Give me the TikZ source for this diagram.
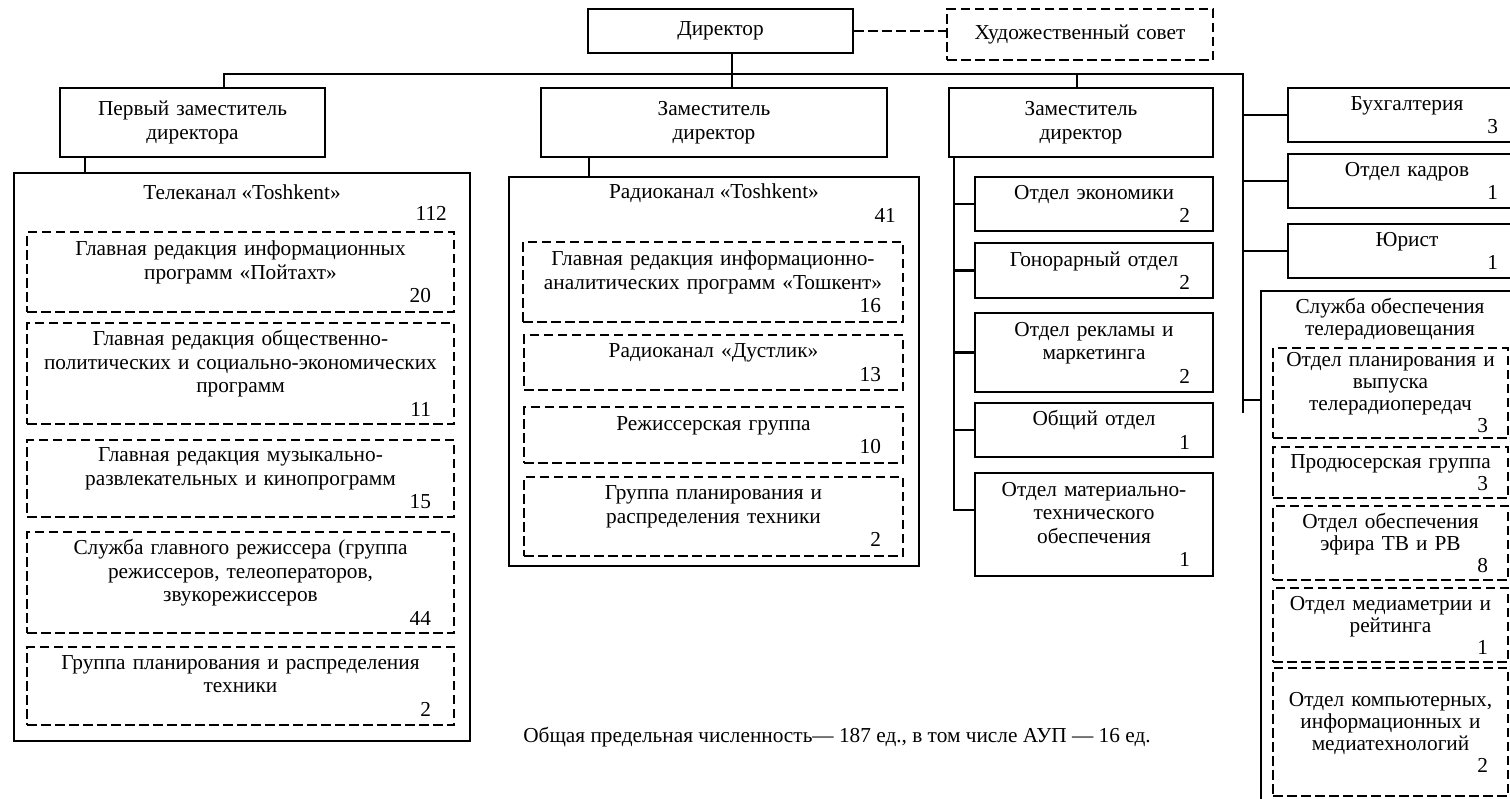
\documentclass[tikz,border=0pt]{standalone}
\usepackage{fontspec}
\setmainfont{Liberation Serif}
\newcommand\nm[2][21]{\\\mbox{}\hfill#2\kern#1pt}
\newcommand\bx[7]{%
  \pgfmathsetmacro\bw{#4-#2}\pgfmathsetmacro\bh{#5-#3}%
  \pgfmathsetmacro\bcx{(#2+#4)/2}\pgfmathsetmacro\bcy{(#3+#5)/2}%
  \pgfmathsetmacro\tw{#4-#2-4}%
  \node[#6, minimum width=\bw pt, minimum height=\bh pt, text width=\tw pt] (#1) at (\bcx,\bcy) {#7};}
\begin{document}
\begin{tikzpicture}[x=1pt,y=-1pt,
  bx/.style={draw, line width=2.4pt, rectangle, inner xsep=2pt, inner ysep=0pt, align=center, font=\fontsize{21.3}{23.5}\selectfont},
  dbx/.style={bx, line width=2.8pt, dash pattern=on 9.5pt off 4.5pt},
  sbx/.style={dbx, font=\fontsize{21.3}{22}\selectfont},
  ln/.style={line width=2.2pt},
  dln/.style={line width=2.8pt, dash pattern=on 9.5pt off 4.5pt},
  tx/.style={inner sep=0pt, font=\fontsize{21.3}{23.5}\selectfont}]
\useasboundingbox (0,0) rectangle (1510,798);
\clip (0,0) rectangle (1510,798);

\bx{dir}{588}{9}{853}{53}{bx}{\raisebox{-2pt}{Директор}}
\bx{hud}{947}{9}{1213}{60}{dbx}{Художественный совет}
\bx{dep1}{60}{88}{325}{157}{bx}{Первый заместитель\\директора}
\bx{dep2}{541}{88}{887}{157}{bx}{Заместитель\\директор}
\bx{dep3}{949}{88}{1213}{157}{bx}{Заместитель\\директор}

\bx{tele}{14}{173}{470}{741}{bx}{}
\node[tx] (tt) at (242,192) {Телеканал «Toshkent»};
\node[tx, anchor=east] (tn) at (447,213) {112};
\bx{T1}{27}{232}{454}{312}{dbx}{Главная редакция информационных\\программ «Пойтахт»\nm{20}}
\bx{T2}{27}{323}{454}{424}{dbx}{Главная редакция общественно-\\политических и социально-экономических\\программ\nm{11}}
\bx{T3}{27}{440}{454}{517}{dbx}{Главная редакция музыкально-\\развлекательных и кинопрограмм\nm{15}}
\bx{T4}{27}{532}{454}{633}{dbx}{Служба главного режиссера (группа\\режиссеров, телеоператоров,\\звукорежиссеров\nm{44}}
\bx{T5}{27}{647}{454}{725}{dbx}{Группа планирования и распределения\\техники\nm{2}}

\bx{radio}{509}{177}{919}{566}{bx}{}
\node[tx] (rt) at (714,193) {Радиоканал «Toshkent»};
\node[tx, anchor=east] (rn) at (896,215) {41};
\bx{R1}{523}{242}{903}{322}{dbx}{Главная редакция информационно-\\аналитических программ «Тошкент»\nm[20]{16}}
\bx{R2}{524}{335}{903}{390}{dbx}{Радиоканал «Дустлик»\nm[20]{13}}
\bx{R3}{524}{407}{903}{463}{dbx}{Режиссерская группа\nm[20]{10}}
\bx{R4}{524}{477}{903}{556}{dbx}{Группа планирования и\\распределения техники\nm[20]{2}}

\bx{D1}{975}{177}{1213}{231}{bx}{Отдел экономики\nm{2}}
\bx{D2}{975}{243}{1213}{298}{bx}{Гонорарный отдел\nm{2}}
\bx{D3}{975}{313}{1213}{392}{bx}{Отдел рекламы и\\маркетинга\nm{2}}
\bx{D4}{975}{403}{1213}{457}{bx}{Общий отдел\nm{1}}
\bx{D5}{975}{473}{1213}{576}{bx}{Отдел материально-\\технического\\обеспечения\nm{1}}

\bx{bux}{1288}{88}{1526}{142}{bx}{Бухгалтерия\nm[26]{3}}
\bx{kad}{1288}{154}{1526}{208}{bx}{Отдел кадров\nm[26]{1}}
\bx{jur}{1288}{224}{1526}{278}{bx}{Юрист\nm[26]{1}}

\bx{sl}{1261}{291}{1520}{830}{bx}{}
\node[tx, align=center, font=\fontsize{21.3}{22}\selectfont] (st) at (1390,319) {Служба обеспечения\\телерадиовещания};
\bx{S1}{1273}{348}{1508}{438}{sbx}{Отдел планирования и\\выпуска\\телерадиопередач\nm[18]{3}}
\bx{S2}{1273}{447}{1508}{498}{sbx}{Продюсерская группа\nm[18]{3}}
\bx{S3}{1273}{506}{1508}{580}{sbx}{Отдел обеспечения\\эфира ТВ и РВ\nm[18]{8}}
\bx{S4}{1273}{588}{1508}{662}{sbx}{Отдел медиаметрии и\\рейтинга\nm[18]{1}}
\bx{S5}{1273}{668}{1508}{796}{sbx}{Отдел компьютерных,\\информационных и\\медиатехнологий\nm[18]{2}}

\node[tx] (fn) at (837,737) {Общая предельная численность— 187 ед., в том числе АУП — 16 ед.};

% connectors
\draw[dln] (dir.east) -- (dir.east -| hud.west);
\coordinate (busL) at (224,74);
\coordinate (busR) at (1243,74);
\coordinate (busE) at (1243,413);
\draw[ln] (dep1.north -| busL) -- (busL) -- (busR) -- (busE);
\coordinate (s2) at (732,74);
\draw[ln] (dir.south -| s2) -- (dep2.north -| s2);
\coordinate (s3) at (1077,74);
\draw[ln] (s3) -- (dep3.north -| s3);
\coordinate (s1) at (85,0);
\draw[ln] (dep1.south -| s1) -- (tele.north -| s1);
\coordinate (sr) at (589,0);
\draw[ln] (dep2.south -| sr) -- (radio.north -| sr);
\coordinate (v3) at (954,510);
\draw[ln] (dep3.south -| v3) -- (v3) -- (v3 -| D5.west);
\foreach \n in {D1,D2,D3,D4} \draw[ln] (\n.west -| v3) -- (\n.west);
\foreach \n in {bux,kad,jur} \draw[ln] (\n.west -| busR) -- (\n.west);
\coordinate (b9) at (1243,400);
\draw[ln] (b9) -- (b9 -| sl.west);
\end{tikzpicture}
\end{document}
